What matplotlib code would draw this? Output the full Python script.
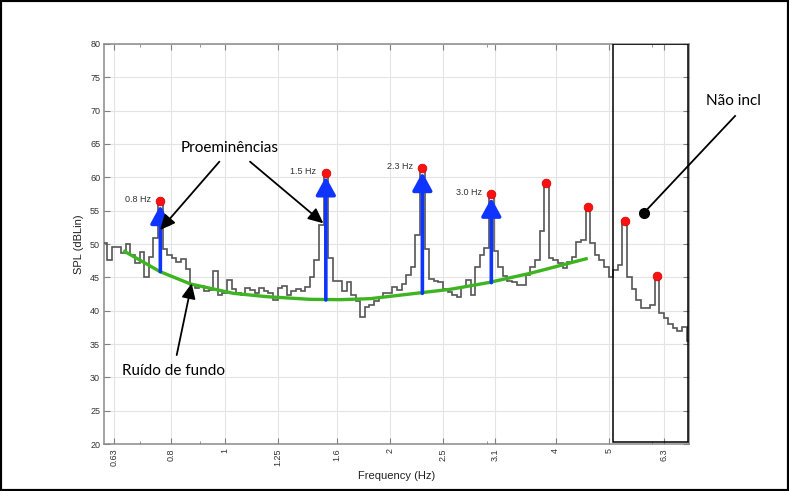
import numpy as np
import matplotlib
matplotlib.use("Agg")
import matplotlib.pyplot as plt
from matplotlib.patches import Rectangle
from matplotlib.ticker import FixedLocator, NullFormatter

# 1/36-octave band levels (dB Lin), band index -2 .. 125, index 0 centred on 0.63 Hz
band_index = np.arange(-2, 126)
spl_db = [
    50.2, 47.6, 49.5, 49.6, 48.6, 50.0, 48.4, 47.1, 48.8, 45.1,
    48.1, 50.9, 56.4, 49.2, 48.4, 47.9, 47.3, 47.8, 46.2, 43.9,
    43.4, 43.7, 43.0, 43.1, 45.9, 42.4, 42.6, 44.6, 43.2, 42.7,
    42.4, 43.4, 43.1, 42.6, 43.4, 42.9, 42.7, 41.6, 43.4, 43.7,
    42.4, 43.0, 43.2, 42.9, 43.6, 45.1, 47.6, 52.9, 60.7, 47.9,
    44.4, 44.4, 43.0, 44.3, 42.3, 41.5, 39.1, 40.5, 40.9, 41.5,
    42.1, 42.6, 42.6, 43.6, 43.1, 44.0, 45.3, 46.6, 51.4, 61.35,
    49.3, 44.8, 44.5, 44.3, 43.3, 42.8, 42.3, 42.1, 43.6, 44.6,
    42.3, 46.6, 48.4, 49.4, 57.5, 49.0, 46.5, 45.2, 44.4, 44.3,
    43.9, 43.8, 45.3, 46.6, 47.6, 52.0, 59.1, 47.9, 47.6, 47.1,
    46.4, 47.3, 48.0, 50.3, 50.6, 55.5, 50.1, 48.4, 47.6, 46.6,
    45.1, 46.1, 46.9, 53.4, 45.1, 43.2, 41.6, 40.4, 40.4, 40.9,
    45.2, 39.6, 38.9, 38.0, 37.4, 37.0, 37.6, 35.4,
]

# tonal peaks (band index) and the ones that are labelled
peak_bands = [10, 46, 67, 82, 94, 103, 111, 118]
peak_labels = ["0.8 Hz", "1.5 Hz", "2.3 Hz", "3.0 Hz"]
# background level under each labelled peak (start of the blue arrows)
arrow_base_db = [45.85, 41.6, 42.6, 44.2]

# background noise trend
noise_hz = [0.654, 0.763, 0.867, 1.037, 1.193, 1.430, 1.622, 1.839,
            2.174, 2.571, 3.014, 3.594, 4.576]
noise_db = [49.0, 45.85, 44.0, 42.6, 42.1, 41.7, 41.65, 41.8,
            42.5, 43.2, 44.2, 45.6, 47.85]

xtick_hz = [0.63, 0.8, 1, 1.25, 1.6, 2, 2.5, 3.1, 4, 5, 6.3]
xtick_labels = ["0.63", "0.8", "1", "1.25", "1.6", "2", "2.5", "3.1", "4", "5", "6.3"]
xminor_hz = [0.7, 0.9, 3, 6]
ytick_db = list(range(20, 85, 5))
excluded_hz = (5.095, 6.95)

BLUE = "#1034ff"
GREEN = "#3db520"
RED = "#ff1010"
NOTE_FONT = "Lato"
AX_FONT = "Liberation Sans"

band_index = np.asarray(band_index)
centres = 0.63 * 2.0 ** (band_index / 36.0)
edges = 0.63 * 2.0 ** ((np.append(band_index, band_index[-1] + 1) - 0.5) / 36.0)
spl = np.asarray(spl_db)

fig = plt.figure(figsize=(7.89, 4.91), dpi=100)
ax = fig.add_axes([0.1322, 0.0957, 0.7414, 0.8147])
ax.set_xscale("log")
ax.set_xlim(0.604, 7.0)
ax.set_ylim(20, 80)

ax.xaxis.set_major_locator(FixedLocator(xtick_hz))
ax.set_xticklabels(xtick_labels, rotation=90, family=AX_FONT)
ax.xaxis.set_minor_locator(FixedLocator(xminor_hz))
ax.xaxis.set_minor_formatter(NullFormatter())
ax.set_yticks(ytick_db)
ax.set_yticklabels([str(v) for v in ytick_db], family=AX_FONT)
ax.grid(True, which="major", color="#e4e4e4", lw=0.8)
ax.set_axisbelow(True)
ax.tick_params(which="both", direction="in", top=True, right=True,
               color="#808080", labelsize=6.5, labelcolor="#333333", pad=3)
ax.tick_params(which="major", length=4, width=0.8)
ax.tick_params(which="minor", length=2.5, width=0.6)
for s in ax.spines.values():
    s.set_color("#8a8a8a")
    s.set_linewidth(1.1)

ax.set_xlabel("Frequency (Hz)", family=AX_FONT, fontsize=8, color="#222222", labelpad=4)
ax.set_ylabel("SPL (dBLin)", family=AX_FONT, fontsize=8, color="#222222", labelpad=4)

# spectrum
ax.stairs(spl, edges, baseline=None, color="#555555", lw=1.2, zorder=3)

# background trend
ax.plot(noise_hz, noise_db, color=GREEN, lw=2.4, solid_capstyle="butt", zorder=4)

# prominence arrows
for band, base, lab in zip(peak_bands, arrow_base_db, peak_labels):
    i = int(np.where(band_index == band)[0][0])
    f, top = centres[i], spl[i]
    ax.annotate("", xy=(f, top - 0.6), xytext=(f, base),
                arrowprops=dict(arrowstyle="-|>,head_length=0.55,head_width=0.3",
                                mutation_scale=20, lw=2.6, color=BLUE,
                                shrinkA=0, shrinkB=0), zorder=5)
    ax.annotate(lab, xy=(f, top), xytext=(-7, 1), textcoords="offset points",
                ha="right", va="center", fontsize=6.5, color="#333333",
                family=AX_FONT, zorder=6)

# peak markers
pk = [int(np.where(band_index == b)[0][0]) for b in peak_bands]
ax.plot(centres[pk], spl[pk], "o", ms=6.3, mfc=RED, mec="#cc0000", mew=0.5, zorder=7)

# excluded region
ax.add_patch(Rectangle((excluded_hz[0], 20.3), excluded_hz[1] - excluded_hz[0], 59.7,
                       fill=False, ec="black", lw=1.1, zorder=8))

# annotations
arrow_kw = dict(arrowstyle="-|>,head_length=0.65,head_width=0.3", mutation_scale=14,
                lw=1.3, color="black", shrinkA=0, shrinkB=0)
ax.text(1.0207, 64.35, "Proeminências", ha="center", va="center",
        fontsize=11, family=NOTE_FONT, zorder=9)
ax.annotate("", xy=(0.7628, 52.1), xytext=(0.978, 62.35), arrowprops=arrow_kw, zorder=9)
ax.annotate("", xy=(1.512, 53.1), xytext=(1.112, 62.35), arrowprops=arrow_kw, zorder=9)

ax.text(0.806, 30.98, "Ruído de fundo", ha="center", va="center",
        fontsize=11, family=NOTE_FONT, zorder=9)
ax.annotate("", xy=(0.871, 44.1), xytext=(0.818, 33.35), arrowprops=arrow_kw, zorder=9)

ax.text(8.44, 71.5, "Não incl", ha="center", va="center", fontsize=11,
        family=NOTE_FONT, clip_on=False, zorder=9)
ax.plot([8.48, 5.793], [69.2, 54.7], color="black", lw=1.3, clip_on=False, zorder=9)
ax.plot([5.793], [54.7], "o", ms=7, color="black", zorder=9)

# outer frame
fig.patches.append(Rectangle((0, 0), 1, 1, transform=fig.transFigure, fill=False,
                             ec="black", lw=3))

fig.savefig("out.png", dpi=100)
